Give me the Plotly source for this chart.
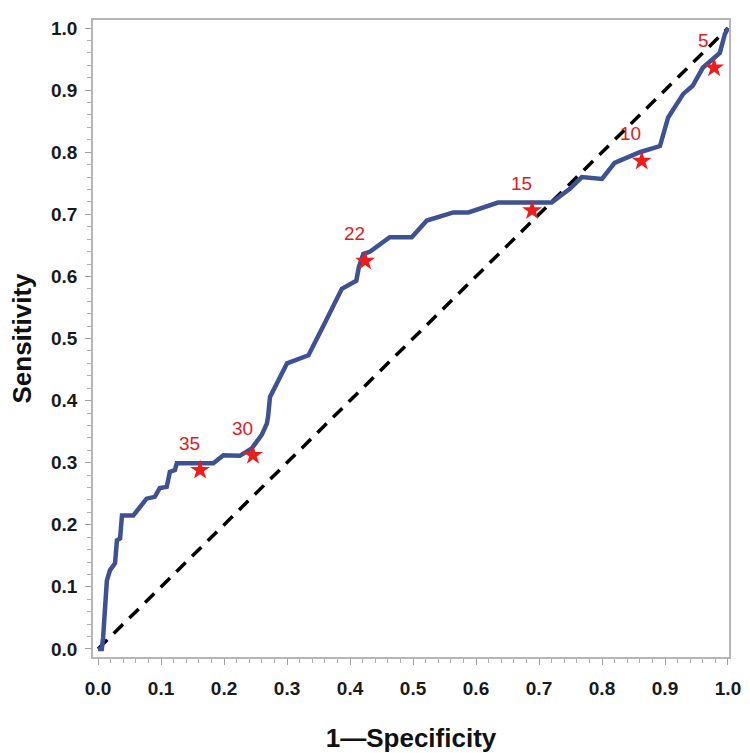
import plotly.graph_objects as go

# ROC curve points (1-Specificity, Sensitivity)
fpr = [0.0, 0.006, 0.008, 0.011, 0.014, 0.019, 0.027, 0.030, 0.035, 0.038, 0.056, 0.067,
       0.077, 0.090, 0.098, 0.109, 0.114, 0.122, 0.125, 0.183, 0.199, 0.225, 0.244, 0.260,
       0.268, 0.270, 0.273, 0.300, 0.334, 0.360, 0.387, 0.410, 0.414, 0.421, 0.432, 0.463,
       0.498, 0.522, 0.564, 0.588, 0.635, 0.720, 0.749, 0.768, 0.800, 0.820, 0.860, 0.892,
       0.905, 0.929, 0.944, 0.960, 0.987, 0.995, 1.0]
tpr = [0.0, 0.0, 0.018, 0.057, 0.110, 0.127, 0.138, 0.175, 0.178, 0.215, 0.215, 0.229,
       0.242, 0.245, 0.259, 0.261, 0.285, 0.288, 0.299, 0.299, 0.312, 0.311, 0.323, 0.345,
       0.363, 0.375, 0.406, 0.460, 0.473, 0.525, 0.580, 0.593, 0.615, 0.636, 0.640, 0.663,
       0.663, 0.690, 0.703, 0.703, 0.719, 0.719, 0.741, 0.760, 0.757, 0.783, 0.800, 0.810,
       0.856, 0.894, 0.907, 0.936, 0.960, 0.990, 1.0]

# Cut-off points marked with stars
cut_labels = ["35", "30", "22", "15", "10", "5"]
cut_fpr = [0.162, 0.246, 0.424, 0.689, 0.863, 0.978]
cut_tpr = [0.288, 0.312, 0.625, 0.706, 0.786, 0.936]

tick_vals = [0.0, 0.1, 0.2, 0.3, 0.4, 0.5, 0.6, 0.7, 0.8, 0.9, 1.0]
tick_text = ["0.0", "0.1", "0.2", "0.3", "0.4", "0.5", "0.6", "0.7", "0.8", "0.9", "1.0"]

FONT = "Liberation Sans, Arial, Helvetica"

fig = go.Figure()
fig.add_trace(go.Scatter(x=[0, 1], y=[0, 1], mode="lines",
                         line=dict(color="black", width=3.5, dash="13px,9px"),
                         showlegend=False, hoverinfo="skip"))
fig.add_trace(go.Scatter(x=fpr, y=tpr, mode="lines",
                         line=dict(color="#3d5193", width=4.5),
                         showlegend=False))
fig.add_trace(go.Scatter(x=cut_fpr, y=cut_tpr, mode="markers",
                         marker=dict(symbol="star", size=15, color="#ee1c1c",
                                     line=dict(width=0)),
                         showlegend=False))

for lab, xv, yv in zip(cut_labels, cut_fpr, cut_tpr):
    fig.add_annotation(x=xv, y=yv, text=lab, showarrow=False,
                       xshift=-11, yshift=27,
                       font=dict(family=FONT, size=19, color="#e31a1c"))

axis_common = dict(
    showline=True, linecolor="#b5b5b5", linewidth=1.5, mirror=True,
    showgrid=False, zeroline=False, automargin=False,
    ticks="outside", ticklen=6, tickcolor="#a0a0a0", tickwidth=1,
    tickvals=tick_vals, ticktext=tick_text,
    tickfont=dict(family=FONT, size=19, color="#1a1a1a", weight="bold"),
    minor=dict(dtick=0.02, ticks="outside", ticklen=4, tickcolor="#b0b0b0", tickwidth=1),
)

fig.update_layout(
    width=750, height=753,
    margin=dict(l=93, r=21, t=20, b=96),
    paper_bgcolor="white", plot_bgcolor="white",
    xaxis=dict(range=[-0.008, 1.0016], ticklabelstandoff=7,
               title=dict(text="<b>1\u2014Specificity</b>", standoff=31,
                          font=dict(family=FONT, size=26, color="#111111")),
               **axis_common),
    yaxis=dict(range=[-0.013, 1.013], ticklabelstandoff=4,
               title=dict(text="<b>Sensitivity</b>", standoff=12,
                          font=dict(family=FONT, size=26, color="#111111")),
               **axis_common),
)

fig.write_html("out.html", config={"displayModeBar": False},
               post_script="document.body.style.margin='0';")
